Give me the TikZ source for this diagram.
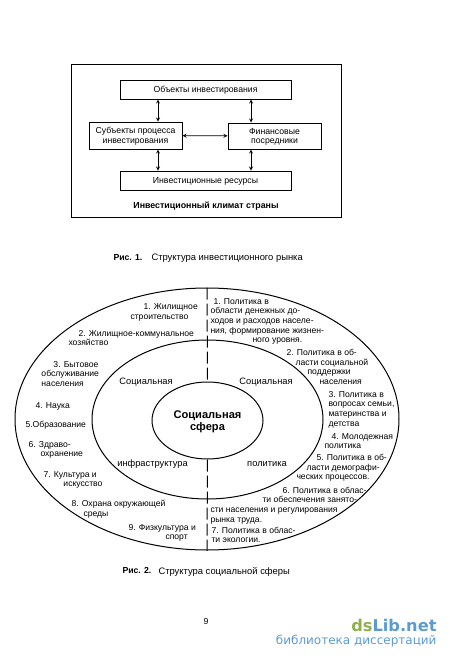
\documentclass[tikz,border=0pt]{standalone}
\usepackage{fontspec}
\setmainfont{Liberation Sans}
\newfontfamily\wmfont{DejaVu Sans}
\usetikzlibrary{shapes.geometric}
\definecolor{wmgreen}{HTML}{8FB04E}
\definecolor{wmblue}{HTML}{5B9BD0}

\begin{document}
\begin{tikzpicture}[
  x=1pt, y=-1pt,
  line width=1pt,
  >=stealth,
  ]
  \tikzstyle{box}=[draw,inner sep=0,align=center,text depth=-1pt,font=\fontsize{8.7}{9.7}\selectfont]
  \tikzstyle{ring}=[draw,ellipse,inner sep=0]
  \tikzstyle{link}=[<->,line width=.8pt]
  \tikzstyle{item}=[anchor=west,inner sep=0,align=left,yshift=-1pt,font=\fontsize{8.6}{9.7}\selectfont]
  \tikzstyle{sector}=[inner sep=0,yshift=-1pt,font=\fontsize{9.3}{10}\selectfont]
  \tikzstyle{caption}=[anchor=west,inner sep=0,yshift=-1.5pt,font=\fontsize{9.4}{10}\selectfont]
  \tikzstyle{caption head}=[anchor=west,inner sep=0,yshift=-.5pt,font=\fontsize{8.7}{10}\selectfont\bfseries]
  \useasboundingbox (0,0) rectangle (450,662);
  % fig 1
  \node(frame)[draw,minimum width=270,minimum height=153,inner sep=0] at (206,141){};
  \node(obj)[box,minimum width=171,minimum height=19] at (205.5,89.5){Объекты инвестирования};
  \node(subj)[box,minimum width=93,minimum height=27] at (135.5,135.5){Субъекты процесса\\инвестирования};
  \node(fin)[box,minimum width=93,minimum height=26] at (274.5,136){Финансовые\\посредники};
  \node(res)[box,minimum width=171,minimum height=19] at (205.5,180.5){Инвестиционные ресурсы};
  \node(climate)[inner sep=0,font=\fontsize{8.85}{10}\selectfont\bfseries] at (206,206){Инвестиционный климат страны};
  \coordinate(c1) at (158,0);
  \coordinate(c2) at (251,0);
  \draw[link](obj.south -| c1)--(subj.north -| c1);
  \draw[link](obj.south -| c2)--(fin.north -| c2);
  \draw[link](subj.south -| c1)--(res.north -| c1);
  \draw[link](fin.south -| c2)--(res.north -| c2);
  \draw[link](subj)--(fin);
  \node(cap1a)[caption head] at (113,257){Рис. 1.};
  \node(cap1b)[caption] at (151,257){Структура инвестиционного рынка};
  % fig 2
  \node(outer)[ring,minimum width=384,minimum height=262] at (207,419){};
  \node(middle)[ring,minimum width=231,minimum height=159] at (207.5,419.5){};
  \node(inner)[ring,align=center,minimum width=111,minimum height=77,text depth=-3pt,font=\fontsize{11.1}{12}\selectfont\bfseries] at (207.5,420.5){Социальная\\сфера};
  \draw[dash pattern=on 12pt off 4pt](outer.north)--(inner.north);
  \draw[dash pattern=on 12pt off 4pt](inner.south)--(outer.south);
  \node(s1)[sector] at (146,381){Социальная};
  \node(s2)[sector] at (152.5,463){инфраструктура};
  \node(s3)[sector] at (266,381){Социальная};
  \node(s4)[sector] at (267,463){политика};
  % left half
  \node(l1)[item] at (130,311.5){\hspace*{13pt}1. Жилищное\\строительство};
  \node(l2)[item] at (68,337){\hspace*{10pt}2. Жилищное-коммунальное\\хозяйство};
  \node(l3)[item] at (41,373){\hspace*{12pt}3. Бытовое\\обслуживание\\населения};
  \node(l4)[item] at (35,405){4. Наука};
  \node(l5)[item] at (25,424){5.Образование};
  \node(l6)[item] at (28,449){6. Здраво-\\\hspace*{12pt}охранение};
  \node(l7)[item] at (43,479){7. Культура и\\\hspace*{20pt}искусство};
  \node(l8)[item] at (71,508){8. Охрана окружающей\\\hspace*{12pt}среды};
  \node(l9)[item] at (128,532){9. Физкультура и\\\hspace*{37pt}спорт};
  % right half
  \node(r1)[item] at (210,320.5){\hspace*{3pt}1. Политика в\\области денежных до-\\ходов и расходов населе-\\ния, формирование жизнен-\\\hspace*{42pt}ного уровня.};
  \node(r2)[item] at (286,366){2. Политика в об-\\\hspace*{9pt}ласти социальной\\\hspace*{21pt}поддержки\\\hspace*{33pt}населения};
  \node(r3)[item] at (328,408.5){3. Политика в\\вопросах семьи,\\материнства и\\детства};
  \node(r4)[item] at (324,440){\hspace*{7pt}4. Молодежная\\политика};
  \node(r5)[item] at (296,467){\hspace*{20pt}5. Политика в об-\\\hspace*{10pt}ласти демографи-\\ческих процессов.};
  \node(r6)[item] at (210,504.5){\hspace*{72pt}6. Политика в облас-\\\hspace*{52pt}ти обеспечения занято-\\сти населения и регулирования\\рынка труда.};
  \node(r7)[item] at (211,534){7. Политика в облас-\\ти экологии.};
  \node(cap2a)[caption head] at (122,570){Рис. 2.};
  \node(cap2b)[caption] at (158,570){Структура социальной сферы};
  % page
  \node(page)[inner sep=0,font=\fontsize{8.7}{10}\selectfont] at (206,621){9};
  \node(wm1)[anchor=east,inner sep=0,font=\fontsize{16.2}{20}\selectfont\wmfont\bfseries] at (437,625){\textcolor{wmgreen}{ds}\textcolor{wmblue}{Lib.net}};
  \node(wm2)[anchor=east,inner sep=0,text=wmblue,font=\fontsize{12}{14}\selectfont\wmfont] at (437,641){библиотека диссертаций};
\end{tikzpicture}
\end{document}
